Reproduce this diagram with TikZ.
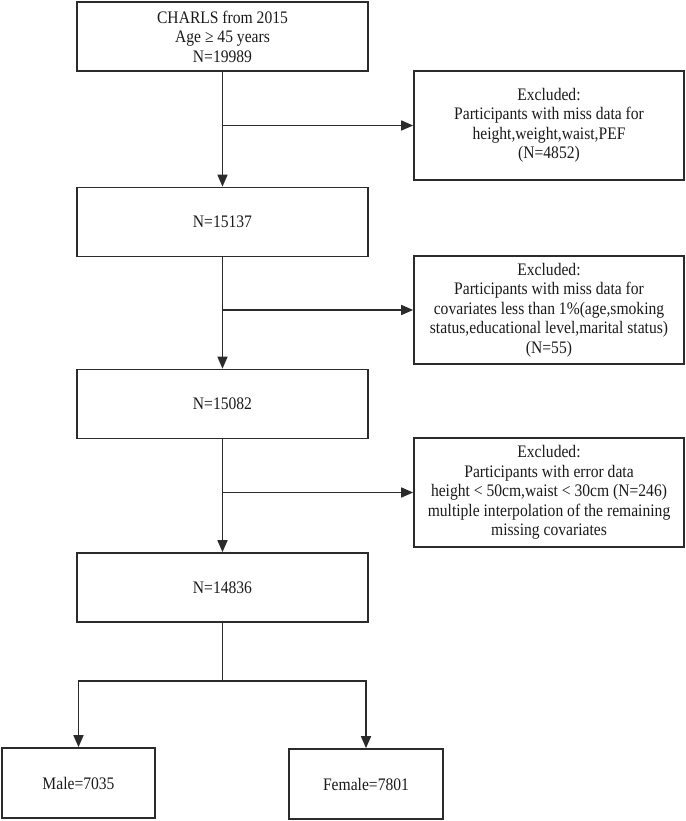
\documentclass[tikz,border=0pt]{standalone}
\usepackage{fontspec}
\setmainfont{Liberation Serif}[FakeStretch=0.886]
\usetikzlibrary{arrows.meta}
\definecolor{ln}{HTML}{2B2B2B}
\definecolor{tx}{HTML}{1A1A1A}
\tikzset{
  box/.style={draw=ln, line width=1.7pt, rectangle, inner sep=0pt, align=center,
    font=\fontsize{17.6}{19.5}\selectfont, text=tx},
  mainbox/.style={box, minimum width=291pt, minimum height=69pt},
  exbox/.style={box, minimum width=270pt, minimum height=108pt},
  subbox/.style={box, minimum width=153pt, minimum height=70pt},
  arr/.style={draw=ln, line width=1.6pt, -{Triangle[length=12pt,width=10pt]}},
  ln/.style={draw=ln, line width=1.6pt}
}
\begin{document}
\begin{tikzpicture}[x=1pt,y=-1pt]
\useasboundingbox (0,0) rectangle (685,821);
\node[mainbox] (top) at (222.5,36.5) {CHARLS from 2015\\Age ≥ 45 years\\N=19989};
\node[mainbox] (b2) at (222.5,222) {N=15137};
\node[mainbox] (b3) at (222.5,404) {N=15082};
\node[mainbox] (b4) at (222.5,587.5) {N=14836};
\node[exbox, minimum height=109pt] (e1) at (549,125.5) {Excluded:\\Participants with miss data for\\height,weight,waist,PEF\\(N=4852)};
\node[exbox] (e2) at (549,310) {Excluded:\\Participants with miss data for\\covariates less than 1\%(age,smoking\\status,educational level,marital status)\\(N=55)};
\node[exbox, minimum height=109pt] (e3) at (549,492.5) {Excluded:\\Participants with error data\\height < 50cm,waist < 30cm (N=246)\\multiple interpolation of the remaining\\missing covariates};
\node[subbox] (male) at (78.5,783) {Male=7035};
\node[subbox, minimum width=154pt] (female) at (366,784) {Female=7801};
\coordinate (j1) at (top.south |- e1.west);
\coordinate (j2) at (b2.south |- e2.west);
\coordinate (j3) at (b3.south |- e3.west);
\coordinate (split) at (222.5,681);
\draw[arr] (top) -- (b2);
\draw[arr] (b2) -- (b3);
\draw[arr] (b3) -- (b4);
\draw[arr] (j1) -- (e1.west);
\draw[arr] (j2) -- (e2.west);
\draw[arr] (j3) -- (e3.west);
\draw[ln] (b4.south) -- (split);
\draw[arr] (split) -| (male.north);
\draw[arr] (split) -| (female.north);
\end{tikzpicture}
\end{document}
